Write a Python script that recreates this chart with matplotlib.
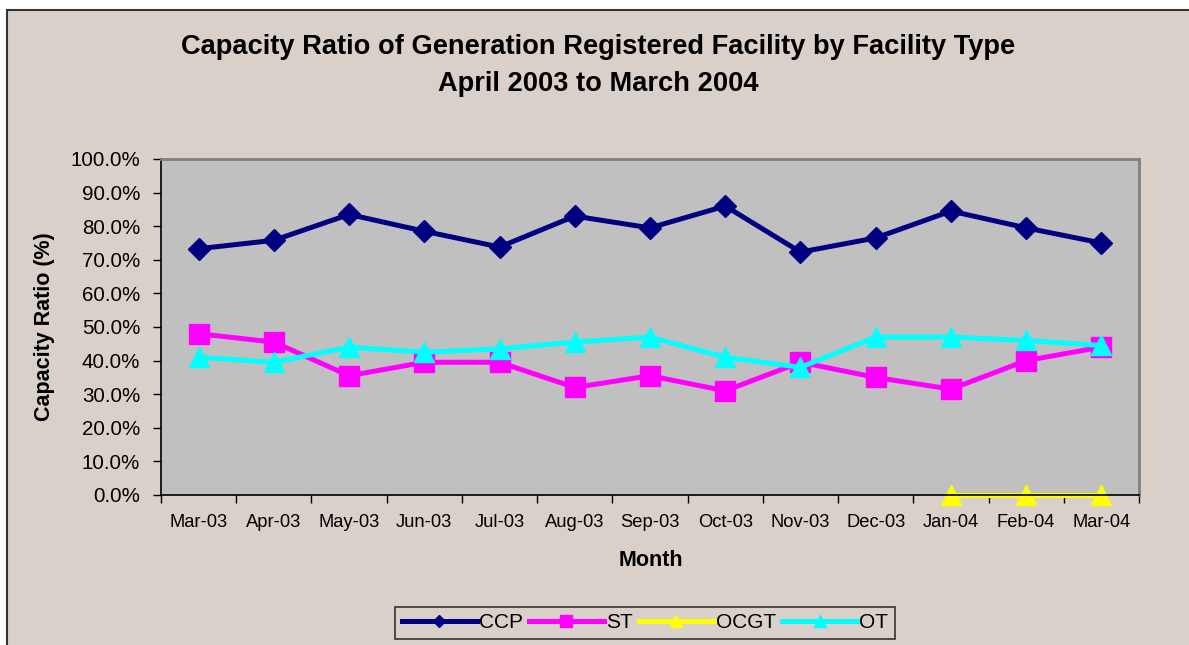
import numpy as np
import matplotlib
matplotlib.use("Agg")
import matplotlib.pyplot as plt
from matplotlib.patches import Rectangle

plt.rcParams['font.family'] = ['Liberation Sans', 'DejaVu Sans']

# data (capacity ratio in %)
months = ["Mar-03", "Apr-03", "May-03", "Jun-03", "Jul-03", "Aug-03", "Sep-03",
          "Oct-03", "Nov-03", "Dec-03", "Jan-04", "Feb-04", "Mar-04"]
ccp = [73.3, 75.8, 83.5, 78.5, 73.8, 83.0, 79.5, 86.0, 72.3, 76.5, 84.5, 79.5, 75.0]
st = [48.0, 45.5, 35.5, 39.5, 39.5, 32.0, 35.5, 31.0, 39.5, 35.0, 31.5, 40.0, 44.0]
ocgt = [np.nan] * 10 + [0.0, 0.0, 0.0]
ot = [41.0, 39.5, 44.0, 42.5, 43.5, 45.5, 47.0, 41.0, 38.0, 47.0, 47.0, 46.0, 44.5]

bg = '#D9D0CA'

fig = plt.figure(figsize=(11.89, 6.45), dpi=100, facecolor='white')

# chart area frame
fig.patches.append(Rectangle((7 / 1189, -0.05), 1.05, 1 - 10 / 645 + 0.05,
                             transform=fig.transFigure, facecolor=bg,
                             edgecolor='#333333', lw=1.5, zorder=-10))

ax = fig.add_axes([161 / 1189, 150 / 645, (1139 - 161) / 1189, (495 - 159) / 645])
ax.set_facecolor('#C0C0C0')

x = np.arange(len(months))
ax.plot(x, ccp, color='#000080', lw=3.6, marker='D', ms=11, label='CCP', clip_on=False)
ax.plot(x, st, color='#FF00FF', lw=3.6, marker='s', ms=15, label='ST', clip_on=False)
ax.plot(x, ocgt, color='#FFFF00', lw=3.6, marker='^', ms=15, label='OCGT', clip_on=False)
ax.plot(x, ot, color='#00FFFF', lw=3.6, marker='^', ms=15, label='OT', clip_on=False)

ax.set_xlim(-0.5, len(months) - 0.5)
ax.set_ylim(0, 100)

# tick marks between months, labels under each month
ax.set_xticks(np.arange(-0.5, len(months), 1.0))
ax.set_xticklabels([])
ax.set_xticks(x, minor=True)
ax.set_xticklabels(months, minor=True, fontsize=13.2)
ax.tick_params(axis='x', which='major', length=6, width=1, direction='out')
ax.tick_params(axis='x', which='minor', length=0, pad=14)

yt = np.arange(0, 101, 10)
ax.set_yticks(yt)
ax.set_yticklabels(["{:.1f}%".format(v) for v in yt], fontsize=14.8)
ax.tick_params(axis='y', length=6, width=1, direction='out', pad=9)

for s in ['left', 'bottom']:
    ax.spines[s].set_color('black')
    ax.spines[s].set_linewidth(1.2)
for s in ['top', 'right']:
    ax.spines[s].set_color('#808080')
    ax.spines[s].set_linewidth(2)

fig.text(598 / 1189, 1 - 47 / 645, "Capacity Ratio of Generation Registered Facility by Facility Type",
         ha='center', va='center', fontsize=19.6, fontweight='bold')
fig.text(598 / 1189, 1 - 84 / 645, "April 2003 to March 2004",
         ha='center', va='center', fontsize=19.6, fontweight='bold')

fig.text(45 / 1189, 1 - 327 / 645, "Capacity Ratio (%)", rotation=90,
         ha='center', va='center', fontsize=15.5, fontweight='bold')
fig.text(651 / 1189, 1 - 560 / 645, "Month",
         ha='center', va='center', fontsize=15.5, fontweight='bold')

leg = fig.legend(loc='center', bbox_to_anchor=(645 / 1189, 1 - 623 / 645), ncol=4,
                 fontsize=15, handlelength=3.6, handletextpad=0.1, columnspacing=0.3,
                 markerscale=0.6, fancybox=False, framealpha=1, borderpad=0.3,
                 borderaxespad=0.2)
leg.get_frame().set_facecolor(bg)
leg.get_frame().set_edgecolor('#333333')
leg.get_frame().set_linewidth(1.2)

fig.savefig("out.png", dpi=100, facecolor='white')
